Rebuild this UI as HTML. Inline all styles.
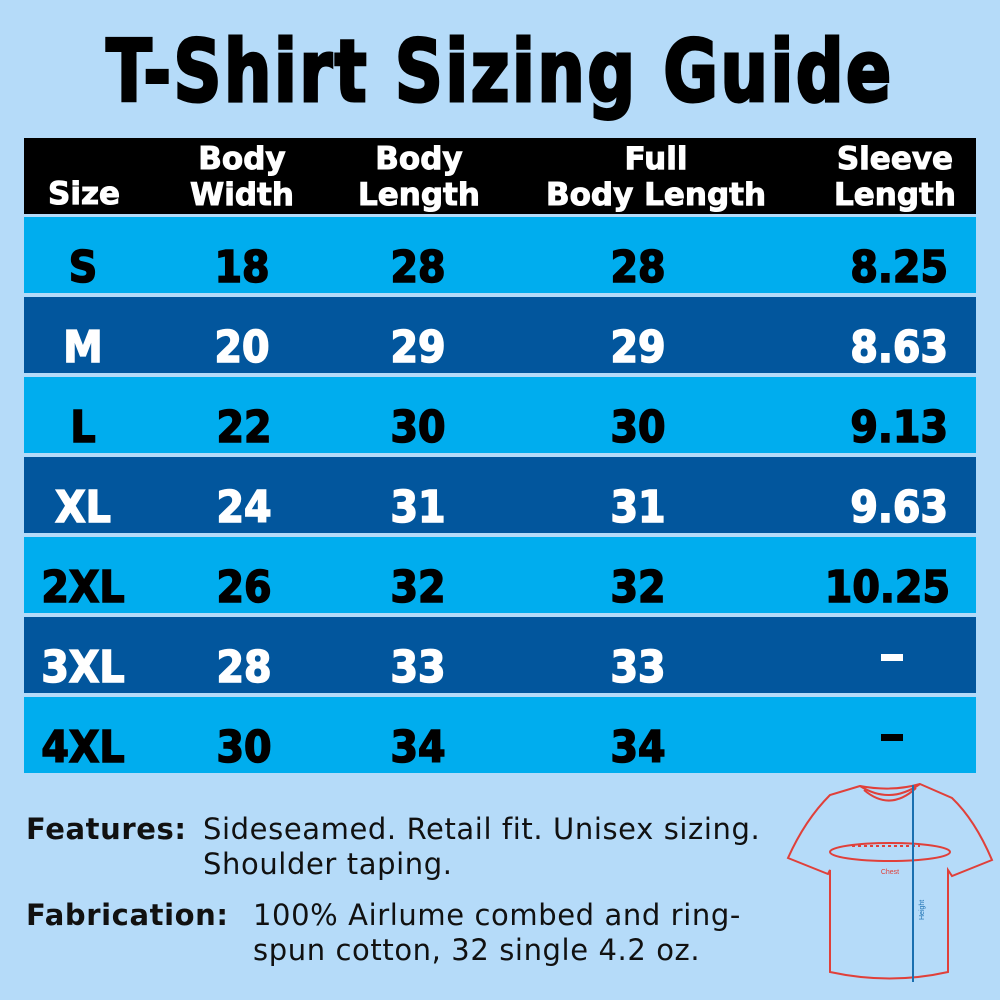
<!DOCTYPE html>
<html><head><style>
body{margin:0;width:1000px;height:1000px;background:#b5dbf9;position:relative;overflow:hidden;font-family:"DejaVu Sans","Liberation Sans",sans-serif}
.t{position:absolute;white-space:nowrap}
.title{left:0;width:1000px;top:22px;text-align:center;font-family:"DejaVu Sans Condensed","Liberation Sans Narrow",sans-serif;font-weight:bold;font-size:86px;color:#000;transform:scaleX(0.86);-webkit-text-stroke:3px #000;letter-spacing:3px}
.hdr{position:absolute;left:24px;top:138px;width:952px;height:76px;background:#000}
.row{position:absolute;left:24px;width:952px;height:76px}
.l{background:#00adee}.d{background:#02569d}
.h{color:#fff;font-weight:bold;font-size:31px;line-height:36px;text-align:center;font-family:"DejaVu Sans",sans-serif;-webkit-text-stroke:1px #fff}
.c,.r{position:absolute;font-weight:bold;font-size:44px;font-family:"DejaVu Sans Condensed","DejaVu Sans",sans-serif;line-height:76px;top:13px;-webkit-text-stroke:1.5px currentColor}
.c{text-align:center;width:200px;margin-left:-100px}
.r{text-align:right;right:28px}
.l .c,.l .r{color:#000}.d .c,.d .r{color:#fff}
.dash{position:absolute;left:857px;width:22px;height:7px;top:37px}
.f{font-size:29px;color:#111;letter-spacing:0.6px}
</style></head><body>
<div class="t title">T-Shirt Sizing Guide</div>
<div class="hdr">
<div class="t h" style="left:24px;top:38px">Size</div>
<div class="t h" style="left:166px;top:3px">Body<br>Width</div>
<div class="t h" style="left:334px;top:3px">Body<br>Length</div>
<div class="t h" style="left:522px;top:3px">Full<br>Body Length</div>
<div class="t h" style="left:810px;top:3px">Sleeve<br>Length</div>
</div>
<div class="row l" style="top:217px"><div class="c" style="left:59px">S</div><div class="c" style="left:218px">18</div><div class="c" style="left:394px">28</div><div class="c" style="left:614px">28</div><div class="r">8.25</div></div>
<div class="row d" style="top:297px"><div class="c" style="left:59px">M</div><div class="c" style="left:218px">20</div><div class="c" style="left:394px">29</div><div class="c" style="left:614px">29</div><div class="r">8.63</div></div>
<div class="row l" style="top:377px"><div class="c" style="left:59px">L</div><div class="c" style="left:220px">22</div><div class="c" style="left:394px">30</div><div class="c" style="left:614px">30</div><div class="r">9.13</div></div>
<div class="row d" style="top:457px"><div class="c" style="left:59px">XL</div><div class="c" style="left:220px">24</div><div class="c" style="left:394px">31</div><div class="c" style="left:614px">31</div><div class="r">9.63</div></div>
<div class="row l" style="top:537px"><div class="c" style="left:59px">2XL</div><div class="c" style="left:220px">26</div><div class="c" style="left:394px">32</div><div class="c" style="left:614px">32</div><div class="r" style="right:26px">10.25</div></div>
<div class="row d" style="top:617px"><div class="c" style="left:59px">3XL</div><div class="c" style="left:220px">28</div><div class="c" style="left:394px">33</div><div class="c" style="left:614px">33</div><div class="dash" style="background:#fff"></div></div>
<div class="row l" style="top:697px"><div class="c" style="left:59px">4XL</div><div class="c" style="left:220px">30</div><div class="c" style="left:394px">34</div><div class="c" style="left:614px">34</div><div class="dash" style="background:#000"></div></div>
<div class="t f" style="left:26px;top:812px;font-weight:bold">Features:</div>
<div class="t f" style="left:203px;top:812px">Sideseamed. Retail fit. Unisex sizing.</div>
<div class="t f" style="left:203px;top:847px">Shoulder taping.</div>
<div class="t f" style="left:26px;top:898px;font-weight:bold">Fabrication:</div>
<div class="t f" style="left:253px;top:898px">100% Airlume combed and ring-</div>
<div class="t f" style="left:253px;top:933px">spun cotton, 32 single 4.2 oz.</div>
<svg style="position:absolute;left:780px;top:770px" width="220" height="230" viewBox="0 0 220 230">
<g fill="none" stroke="#e0403a" stroke-width="2">
<path d="M80 16 L50 25 Q25 50 8 88 L48 104 L50 100 L50 202 Q110 215 168 202 L168 100 L172 106 L212 90 Q195 50 172 28 L140 14 Q112 22 80 16Z"/>
<path d="M80 16 Q110 35 140 14"/><path d="M84 20 Q110 42 136 18"/>
<ellipse cx="110" cy="82" rx="60" ry="9"/>
<path d="M72 76 L140 76" stroke-dasharray="3 3"/>
</g>
<text x="110" y="104" font-size="7" fill="#e0403a" text-anchor="middle" font-family="Liberation Sans">Chest</text>
<line x1="133" y1="15" x2="133" y2="212" stroke="#1a6fb0" stroke-width="2"/>
<text x="0" y="0" font-size="7" fill="#1a6fb0" transform="translate(144 150) rotate(-90)" font-family="Liberation Sans">Height</text>
</svg>
</body></html>
